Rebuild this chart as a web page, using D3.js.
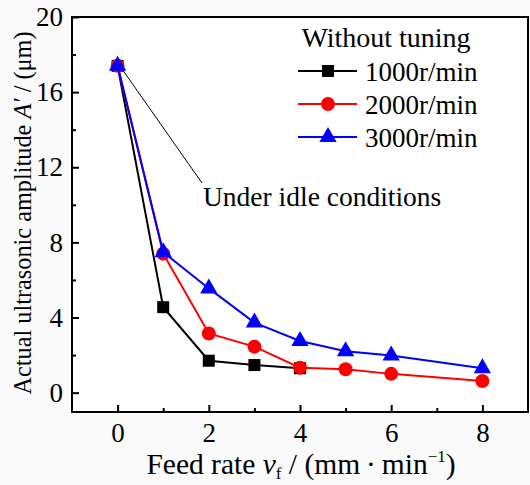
<!DOCTYPE html>
<html><head><meta charset="utf-8">
<script src="https://cdn.jsdelivr.net/npm/d3@7"></script>
<style>body{margin:0;background:#fafafa}svg{display:block}</style>
</head><body><svg id="c" width="530" height="485" font-family="Liberation Serif, serif"></svg>
<script>
const feed1000 = [0,1,2,3,4];
const amp1000 = [17.4,4.55,1.7,1.47,1.3];
const feed2000 = [0,1,2,3,4,5,6,8];
const amp2000 = [17.4,7.4,3.15,2.45,1.33,1.25,1.0,0.62];
const feed3000 = [0,1,2,3,4,5,6,8];
const amp3000 = [17.4,7.48,5.55,3.73,2.75,2.2,1.98,1.3];
const seriesNames = ["1000r/min","2000r/min","3000r/min"];
const seriesColors = ["#000000","#ff0000","#0000ff"];
const seriesShapes = ["square","circle","triangle"];
const xTicks = [0,2,4,6,8];
const yTicks = [0,4,8,12,16,20];

const FF = "Liberation Serif, serif";
const svg = d3.select("#c");
const L=72,R=528,T=17,B=412;
const x = d3.scaleLinear().domain([-1,9]).range([L,R]);
const y = d3.scaleLinear().domain([-1.03,20]).range([B,T]);

svg.append("rect").attr("x",L).attr("y",T).attr("width",R-L).attr("height",B-T)
  .attr("fill","#fff").attr("stroke","#000").attr("stroke-width",2);

const xAx = svg.append("g").attr("transform",`translate(0,${B})`)
  .call(d3.axisBottom(x).tickValues(xTicks).tickSize(-7).tickPadding(11).tickFormat(d3.format("d")));
const xMin = svg.append("g").attr("transform",`translate(0,${B})`)
  .call(d3.axisBottom(x).tickValues([1,3,5,7]).tickSize(-4).tickFormat(""));
const yAx = svg.append("g").attr("transform",`translate(${L},0)`)
  .call(d3.axisLeft(y).tickValues(yTicks).tickSize(-7).tickPadding(9).tickFormat(d3.format("d")));
const yMin = svg.append("g").attr("transform",`translate(${L},0)`)
  .call(d3.axisLeft(y).tickValues([2,6,10,14,18]).tickSize(-4).tickFormat(""));
[xAx,xMin,yAx,yMin].forEach(g=>{g.attr("font-family",FF).attr("font-size",27);
  g.select(".domain").remove();
  g.selectAll("line").attr("stroke","#000").attr("stroke-width",2);
  g.selectAll("text").attr("fill","#000");});

svg.append("line").attr("x1",x(0)+5).attr("y1",y(17.4)+4).attr("x2",202).attr("y2",183)
  .attr("stroke","#000").attr("stroke-width",1);
svg.append("text").attr("x",203).attr("y",y(9.95)).attr("font-size",27.5).text("Under idle conditions");

const data = [[feed1000,amp1000],[feed2000,amp2000],[feed3000,amp3000]];
const line = d3.line().x(d=>x(d[0])).y(d=>y(d[1]));
function marker(g,shape,color,cx,cy){
  if(shape==="square") g.append("rect").attr("x",cx-6).attr("y",cy-6).attr("width",12).attr("height",12).attr("fill",color);
  else if(shape==="circle") g.append("circle").attr("cx",cx).attr("cy",cy).attr("r",7).attr("fill",color);
  else g.append("path").attr("d",d3.symbol(d3.symbolTriangle,130)()).attr("transform",`translate(${cx},${cy})`).attr("fill",color);
}
data.forEach(([xs,ys],i)=>{
  const pts = xs.map((v,j)=>[v,ys[j]]);
  const g = svg.append("g");
  g.append("path").attr("d",line(pts)).attr("fill","none").attr("stroke",seriesColors[i]).attr("stroke-width",2);
  pts.forEach(p=>marker(g,seriesShapes[i],seriesColors[i],x(p[0]),y(p[1])));
});

svg.append("text").attr("x",386).attr("y",47).attr("text-anchor","middle").attr("font-size",28).text("Without tuning");
seriesNames.forEach((n,i)=>{
  const yy = 71+i*33;
  const g = svg.append("g");
  g.append("line").attr("x1",298).attr("x2",357).attr("y1",yy).attr("y2",yy).attr("stroke",seriesColors[i]).attr("stroke-width",2);
  marker(g,seriesShapes[i],seriesColors[i],328,yy);
  g.append("text").attr("x",365).attr("y",yy+10).attr("font-size",27).text(n);
});

const xt = svg.append("text").attr("x",301).attr("y",474).attr("text-anchor","middle").attr("font-size",29.5);
xt.append("tspan").text("Feed rate ");
xt.append("tspan").attr("font-style","italic").text("v");
xt.append("tspan").attr("font-size",17).attr("dy",5).text("f");
xt.append("tspan").attr("dy",-5).text(" / (mm\u2009\u00B7\u2009min");
xt.append("tspan").attr("font-size",17).attr("dy",-12).text("\u22121");
xt.append("tspan").attr("dy",12).text(")");

const yt = svg.append("text").attr("transform","translate(31,213) rotate(-90)").attr("text-anchor","middle").attr("font-size",24.3);
yt.append("tspan").text("Actual ultrasonic amplitude ");
yt.append("tspan").attr("font-style","italic").text("A\u2032");
yt.append("tspan").text(" / (\u03BCm)");
</script></body></html>
